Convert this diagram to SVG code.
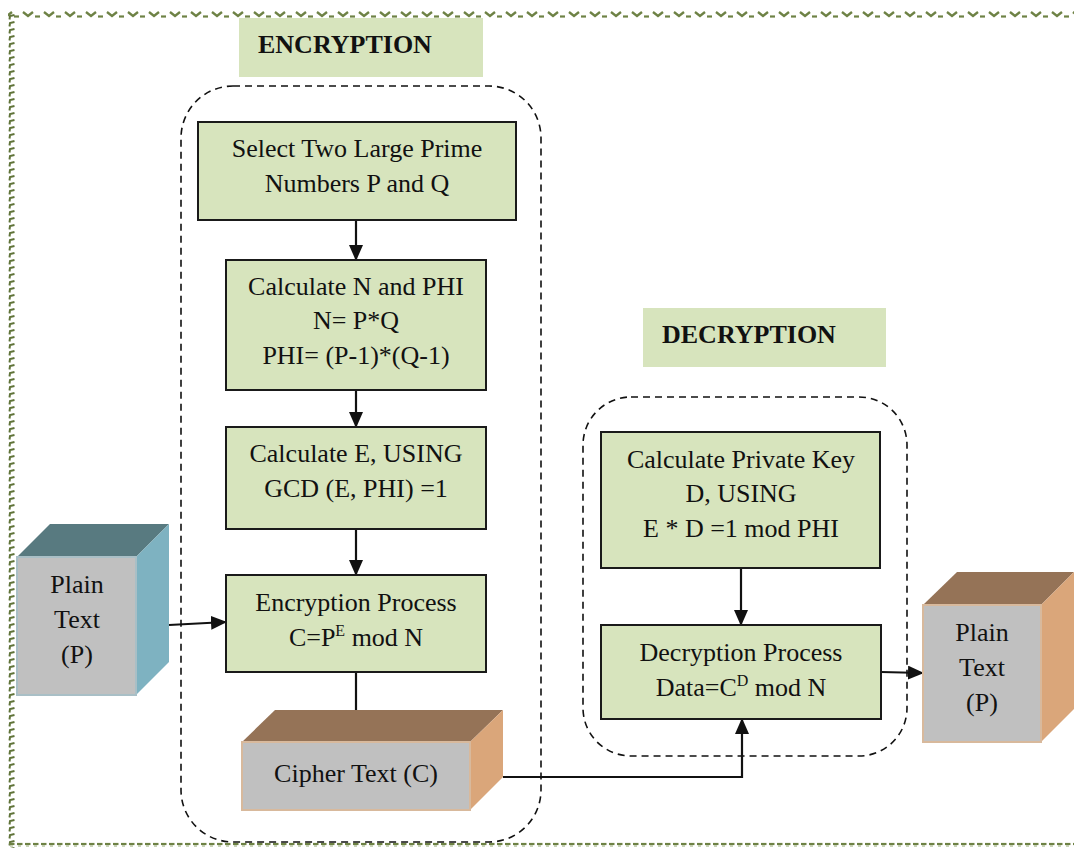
<svg xmlns="http://www.w3.org/2000/svg" width="1074" height="848" viewBox="0 0 1074 848">
  <style>
    .t { font-family: "Liberation Serif", "Times New Roman", serif; font-size: 26px; fill: #111; text-anchor: middle; }
    .lbl { font-family: "Liberation Serif", "Times New Roman", serif; font-size: 26px; font-weight: bold; fill: #111; }
    .sup { font-size: 16px; }
    .step { fill: #D7E4BD; stroke: #1a1a1a; stroke-width: 2; }
    .tag { fill: #D7E4BD; }
    .group { fill: none; stroke: #111; stroke-width: 1.6; stroke-dasharray: 7 5; }
    .conn { fill: none; stroke: #111; stroke-width: 2.2; }
    .front { fill: #C0C0C0; stroke-width: 2; }
  </style>
  <defs>
    <marker id="arrow" viewBox="0 0 16 14" refX="15" refY="7" markerWidth="16" markerHeight="14" markerUnits="userSpaceOnUse" orient="auto">
      <path d="M0,0 L16,7 L0,14 Z" fill="#111"/>
    </marker>
    <!-- decorative page border patterns -->
    <pattern id="borderTop" x="0" y="11" width="21" height="7" patternUnits="userSpaceOnUse">
      <path d="M2,1 L7,5 L12,1" fill="none" stroke="#6E8245" stroke-width="2.4"/>
      <path d="M14,5.5 L19,5.5" stroke="#6E8245" stroke-width="2.2"/>
    </pattern>
    <pattern id="borderLeft" x="8" y="0" width="7" height="7" patternUnits="userSpaceOnUse">
      <path d="M1.5,5.5 L2,2 L6.5,1" fill="none" stroke="#5F7338" stroke-width="2"/>
    </pattern>
    <pattern id="borderBottom" x="0" y="842" width="8" height="5" patternUnits="userSpaceOnUse">
      <path d="M1,2 L6.5,2" stroke="#6E8245" stroke-width="2.2"/>
      <path d="M2,4 L5,4" stroke="#B7C4A0" stroke-width="1.5"/>
    </pattern>
  </defs>

  <rect width="1074" height="848" fill="#fff"/>

  <!-- page border -->
  <g id="page-border">
    <rect x="8" y="11" width="1066" height="7" fill="url(#borderTop)"/>
    <rect x="8" y="14" width="7" height="834" fill="url(#borderLeft)"/>
    <rect x="8" y="842" width="1066" height="5" fill="url(#borderBottom)"/>
  </g>

  <!-- section groupings -->
  <g id="encryption-section">
    <rect x="181" y="86" width="360" height="756" rx="52" ry="52" class="group"/>
    <rect x="239" y="18" width="244" height="59" class="tag"/>
    <text x="258" y="53" class="lbl">ENCRYPTION</text>
  </g>
  <g id="decryption-section">
    <rect x="583" y="397" width="324" height="359" rx="48" ry="48" class="group"/>
    <rect x="643" y="308" width="243" height="59" class="tag"/>
    <text x="662" y="343" class="lbl">DECRYPTION</text>
  </g>

  <!-- connectors -->
  <g id="connectors">
    <line x1="356" y1="220" x2="356" y2="260" class="conn" marker-end="url(#arrow)"/>
    <line x1="356" y1="390" x2="356" y2="427" class="conn" marker-end="url(#arrow)"/>
    <line x1="356" y1="529" x2="356" y2="575" class="conn" marker-end="url(#arrow)"/>
    <line x1="356" y1="672" x2="356" y2="710" class="conn"/>
    <line x1="169" y1="625" x2="226" y2="622" class="conn" marker-end="url(#arrow)"/>
    <line x1="741" y1="568" x2="741" y2="625" class="conn" marker-end="url(#arrow)"/>
    <line x1="881" y1="672" x2="923" y2="673" class="conn" marker-end="url(#arrow)"/>
    <polyline points="503,777 742,777 742,719" class="conn" marker-end="url(#arrow)"/>
  </g>

  <!-- encryption steps -->
  <g id="select-primes">
    <rect x="198" y="122" width="318" height="98" class="step"/>
    <text x="357" y="157" class="t">Select Two Large Prime</text>
    <text x="357" y="192" class="t">Numbers P and Q</text>
  </g>
  <g id="calc-n-phi">
    <rect x="226" y="260" width="260" height="130" class="step"/>
    <text x="356" y="295" class="t">Calculate N and PHI</text>
    <text x="356" y="329" class="t">N= P*Q</text>
    <text x="356" y="364" class="t">PHI= (P-1)*(Q-1)</text>
  </g>
  <g id="calc-e">
    <rect x="226" y="427" width="260" height="102" class="step"/>
    <text x="356" y="462" class="t">Calculate E, USING</text>
    <text x="356" y="497" class="t">GCD (E, PHI) =1</text>
  </g>
  <g id="encrypt-process">
    <rect x="226" y="575" width="260" height="97" class="step"/>
    <text x="356" y="611" class="t">Encryption Process</text>
    <text x="356" y="646" class="t">C=P<tspan class="sup" dy="-10">E</tspan><tspan dy="10"> mod N</tspan></text>
  </g>

  <!-- decryption steps -->
  <g id="calc-d">
    <rect x="601" y="432" width="279" height="136" class="step"/>
    <text x="741" y="468" class="t">Calculate Private Key</text>
    <text x="741" y="502" class="t">D, USING</text>
    <text x="741" y="537" class="t">E * D =1 mod PHI</text>
  </g>
  <g id="decrypt-process">
    <rect x="601" y="625" width="280" height="94" class="step"/>
    <text x="741" y="661" class="t">Decryption Process</text>
    <text x="741" y="696" class="t">Data=C<tspan class="sup" dy="-10">D</tspan><tspan dy="10"> mod N</tspan></text>
  </g>

  <!-- data blocks -->
  <g id="plain-text-in">
    <polygon points="17,557 50,524 169,524 136,557" fill="#587A80"/>
    <polygon points="136,557 169,524 169,662 136,695" fill="#7EB2C1"/>
    <rect x="17" y="557" width="119" height="138" class="front" stroke="#A9BFC6"/>
    <text x="77" y="593" class="t">Plain</text>
    <text x="77" y="628" class="t">Text</text>
    <text x="77" y="663" class="t">(P)</text>
  </g>
  <g id="cipher-text">
    <polygon points="242,742 275,710 503,710 470,742" fill="#957357"/>
    <polygon points="470,742 503,710 503,777 470,810" fill="#DAA67A"/>
    <rect x="242" y="742" width="228" height="68" class="front" stroke="#D8B99C"/>
    <text x="356" y="782" class="t">Cipher Text (C)</text>
  </g>
  <g id="plain-text-out">
    <polygon points="923,605 957,572 1074,572 1041,605" fill="#957357"/>
    <polygon points="1041,605 1074,572 1074,709 1041,742" fill="#DAA67A"/>
    <rect x="923" y="605" width="118" height="137" class="front" stroke="#D8B99C"/>
    <text x="982" y="641" class="t">Plain</text>
    <text x="982" y="676" class="t">Text</text>
    <text x="982" y="711" class="t">(P)</text>
  </g>
</svg>
